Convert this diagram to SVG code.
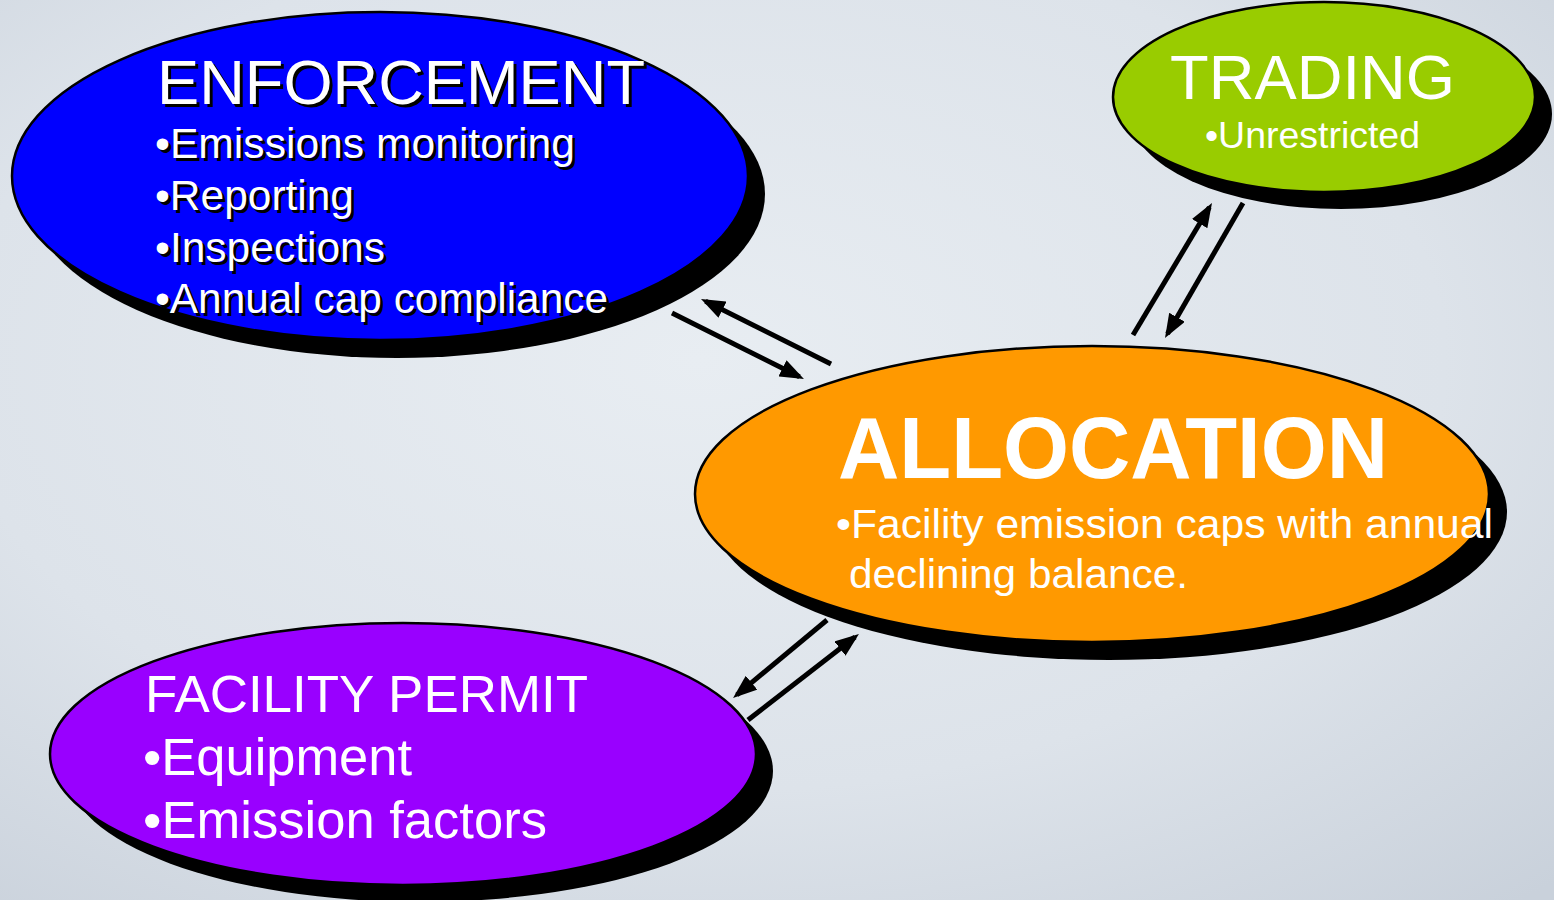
<svg xmlns="http://www.w3.org/2000/svg" width="1554" height="900" viewBox="0 0 1554 900">
<defs>
<radialGradient id="bg" cx="0.45" cy="0.4" r="0.8">
<stop offset="0" stop-color="#e8edf2"/>
<stop offset="0.6" stop-color="#dde3ea"/>
<stop offset="1" stop-color="#c9d1db"/>
</radialGradient>
<marker id="ah" viewBox="0 0 24 18" refX="19" refY="9" markerWidth="24" markerHeight="18" markerUnits="userSpaceOnUse" orient="auto">
<path d="M0,0 L24,9 L0,18 Z" fill="#000"/>
</marker>
<style>
.sh{fill:#000}
.el{stroke:#000;stroke-width:2.5}
.t{font-family:"Liberation Sans",Arial,sans-serif;fill:#fff}
.ts{font-family:"Liberation Sans",Arial,sans-serif;fill:#000}
.c{stroke:#000;stroke-width:5;fill:none;marker-end:url(#ah)}
</style>
</defs>
<rect width="1554" height="900" fill="url(#bg)"/>

<g id="enforcement">
<ellipse class="sh" cx="397" cy="194" rx="368" ry="164"/>
<ellipse class="el" cx="380" cy="176" rx="368" ry="164" fill="#0000ff"/>
<g class="ts">
<text x="160" y="107" font-size="63" textLength="488" lengthAdjust="spacingAndGlyphs">ENFORCEMENT</text>
<text x="158" y="161" font-size="42" textLength="420" lengthAdjust="spacingAndGlyphs">•Emissions monitoring</text>
<text x="158" y="213" font-size="42" textLength="199" lengthAdjust="spacingAndGlyphs">•Reporting</text>
<text x="158" y="265" font-size="42" textLength="230" lengthAdjust="spacingAndGlyphs">•Inspections</text>
<text x="158" y="316" font-size="42" textLength="453" lengthAdjust="spacingAndGlyphs">•Annual cap compliance</text>
</g>
<g class="t">
<text x="157" y="104" font-size="63" textLength="488" lengthAdjust="spacingAndGlyphs">ENFORCEMENT</text>
<text x="155" y="158" font-size="42" textLength="420" lengthAdjust="spacingAndGlyphs">•Emissions monitoring</text>
<text x="155" y="210" font-size="42" textLength="199" lengthAdjust="spacingAndGlyphs">•Reporting</text>
<text x="155" y="262" font-size="42" textLength="230" lengthAdjust="spacingAndGlyphs">•Inspections</text>
<text x="155" y="313" font-size="42" textLength="453" lengthAdjust="spacingAndGlyphs">•Annual cap compliance</text>
</g>
</g>

<g id="trading">
<ellipse class="sh" cx="1341" cy="114" rx="211" ry="95"/>
<ellipse class="el" cx="1324" cy="97" rx="211" ry="95" fill="#99cc00"/>
<text class="t" x="1170" y="99" font-size="63" textLength="285" lengthAdjust="spacingAndGlyphs">TRADING</text>
<text class="t" x="1205" y="148" font-size="36" textLength="215" lengthAdjust="spacingAndGlyphs">•Unrestricted</text>
</g>

<g id="allocation">
<ellipse class="sh" cx="1109" cy="512" rx="398" ry="148"/>
<ellipse class="el" cx="1092" cy="494" rx="397" ry="148" fill="#ff9900"/>
<text class="t" x="838" y="478" font-size="87" font-weight="bold" textLength="550" lengthAdjust="spacingAndGlyphs">ALLOCATION</text>
<text class="t" x="836" y="538" font-size="41" textLength="657" lengthAdjust="spacingAndGlyphs">•Facility emission caps with annual</text>
<text class="t" x="849" y="588" font-size="41" textLength="339" lengthAdjust="spacingAndGlyphs">declining balance.</text>
</g>

<g id="facility-permit">
<ellipse class="sh" cx="420" cy="771" rx="353" ry="131"/>
<ellipse class="el" cx="403" cy="754" rx="353" ry="131" fill="#9900ff"/>
<text class="t" x="145" y="712" font-size="51" textLength="443" lengthAdjust="spacingAndGlyphs">FACILITY PERMIT</text>
<text class="t" x="143" y="775" font-size="51" textLength="269" lengthAdjust="spacingAndGlyphs">•Equipment</text>
<text class="t" x="143" y="838" font-size="51" textLength="404" lengthAdjust="spacingAndGlyphs">•Emission factors</text>
</g>

<g id="connectors">
<line class="c" x1="672" y1="313" x2="799.5" y2="376.8"/>
<line class="c" x1="831" y1="364" x2="705.5" y2="301.2"/>
<line class="c" x1="1133" y1="335" x2="1209.4" y2="207.3"/>
<line class="c" x1="1243" y1="203" x2="1167.5" y2="333.7"/>
<line class="c" x1="827" y1="620" x2="736.9" y2="694.8"/>
<line class="c" x1="748" y1="720" x2="855" y2="637"/>
</g>
</svg>
